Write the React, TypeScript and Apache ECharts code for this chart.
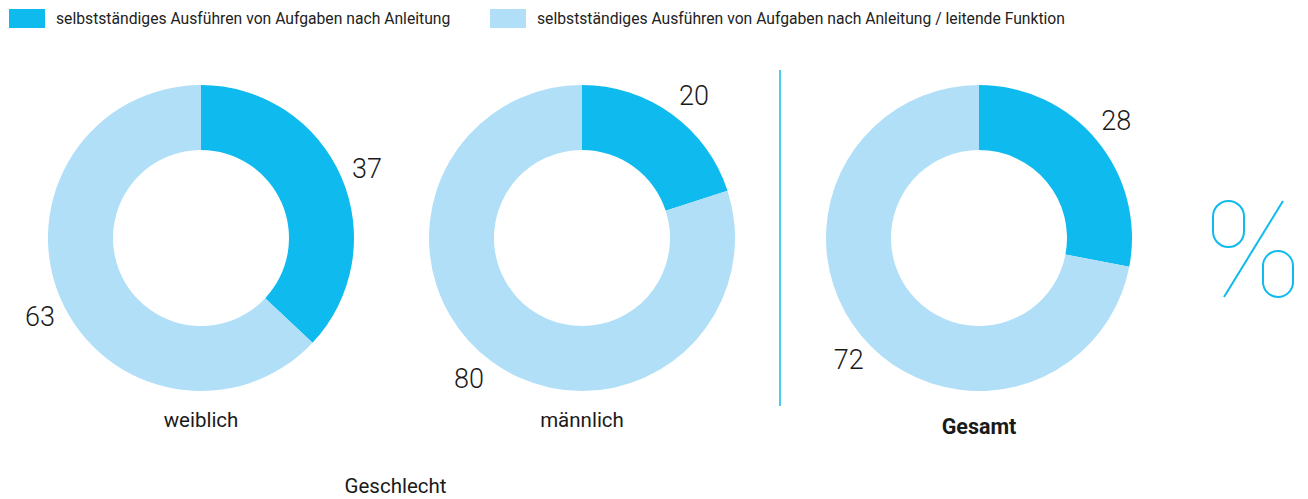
import React, { useEffect, useRef } from "react";
import * as echarts from "echarts";

const seriesNames = [
  "selbstständiges Ausführen von Aufgaben nach Anleitung",
  "selbstständiges Ausführen von Aufgaben nach Anleitung / leitende Funktion",
];
const categories = ["weiblich", "männlich", "Gesamt"];
const valuesAnleitung = [37, 20, 28];
const valuesLeitend = [63, 80, 72];
const groupTitle = "Geschlecht";

const DARK = "#0ebaee";
const LIGHT = "#b0dff7";
const FONT = "Roboto, 'DejaVu Sans', sans-serif";

// small label position fine-tuning per pie: [dark slice, light slice]
const labelNudges = [
  [[-1, 3], [6, 7]],
  [[5, 5], [-6, -6]],
  [[-3, -1], [10, 6]],
];

export default function App() {
  const ref = useRef<HTMLDivElement>(null);

  useEffect(() => {
    document.body.style.margin = "0";
    if (!ref.current) return;
    const chart = echarts.init(ref.current, undefined, { renderer: "svg" });
    const centers = [
      [201, 238],
      [582, 238],
      [979, 238],
    ];

    const ringSeries = categories.map((cat, i) => ({
      type: "pie",
      name: cat,
      center: centers[i],
      radius: [88, 153],
      startAngle: 90,
      clockwise: true,
      silent: true,
      label: { show: false },
      labelLine: { show: false },
      emphasis: { disabled: true },
      data: [
        { name: seriesNames[0], value: valuesAnleitung[i], itemStyle: { color: DARK } },
        { name: seriesNames[1], value: valuesLeitend[i], itemStyle: { color: LIGHT } },
      ],
    }));

    // transparent ring whose "inside" labels sit at radius ~179 on each slice's mid angle
    const labelSeries = categories.map((cat, i) => ({
      type: "pie",
      name: cat + " Werte",
      center: centers[i],
      radius: [170, 188],
      startAngle: 90,
      clockwise: true,
      silent: true,
      z: 3,
      itemStyle: { color: "rgba(0,0,0,0)" },
      label: {
        show: true,
        position: "inside",
        formatter: "{c}",
        fontFamily: FONT,
        fontSize: 27,
        fontWeight: 300,
        color: "#1a1a1a",
      },
      labelLine: { show: false },
      emphasis: { disabled: true },
      data: [
        {
          name: seriesNames[0] + " ",
          value: valuesAnleitung[i],
          label: { offset: labelNudges[i][0] },
        },
        {
          name: seriesNames[1] + " ",
          value: valuesLeitend[i],
          label: { offset: labelNudges[i][1] },
        },
      ],
    }));

    const legendBase = {
      top: 9,
      padding: 0,
      icon: "rect",
      itemWidth: 36,
      itemHeight: 19,
      selectedMode: false,
      textStyle: {
        fontFamily: FONT,
        fontSize: 15.7,
        color: "#222",
        padding: [0, 0, 0, 6],
      },
    };

    const textStyle = (text: string, bold = false) => ({
      text,
      fontFamily: FONT,
      fontSize: bold ? 21.5 : 20.5,
      fontWeight: bold ? "bold" : "normal",
      fill: "#1a1a1a",
      textAlign: "center",
      textVerticalAlign: "middle",
    });

    chart.setOption({
      animation: false,
      legend: [
        { ...legendBase, left: 9, data: [seriesNames[0]] },
        { ...legendBase, left: 490, data: [seriesNames[1]] },
      ],
      series: [...ringSeries, ...labelSeries],
      graphic: [
        ...categories.map((cat, i) => ({
          type: "text",
          x: centers[i][0],
          y: i === 2 ? 426 : 420,
          style: textStyle(cat, i === 2),
        })),
        {
          type: "text",
          x: (centers[0][0] + centers[1][0]) / 2 + 4,
          y: 486,
          style: textStyle(groupTitle),
        },
        {
          type: "line",
          shape: { x1: 780, y1: 70, x2: 780, y2: 406 },
          style: { stroke: DARK, lineWidth: 1.5 },
        },
        {
          type: "rect",
          shape: { x: 1213, y: 201, width: 31, height: 46, r: 15.5 },
          style: { fill: "none", stroke: DARK, lineWidth: 2 },
        },
        {
          type: "rect",
          shape: { x: 1263, y: 251, width: 30, height: 46, r: 15 },
          style: { fill: "none", stroke: DARK, lineWidth: 2 },
        },
        {
          type: "line",
          shape: { x1: 1283, y1: 201, x2: 1224, y2: 297 },
          style: { stroke: DARK, lineWidth: 2 },
        },
      ],
    });

    return () => chart.dispose();
  }, []);

  return <div ref={ref} style={{ width: 1308, height: 499 }} />;
}
